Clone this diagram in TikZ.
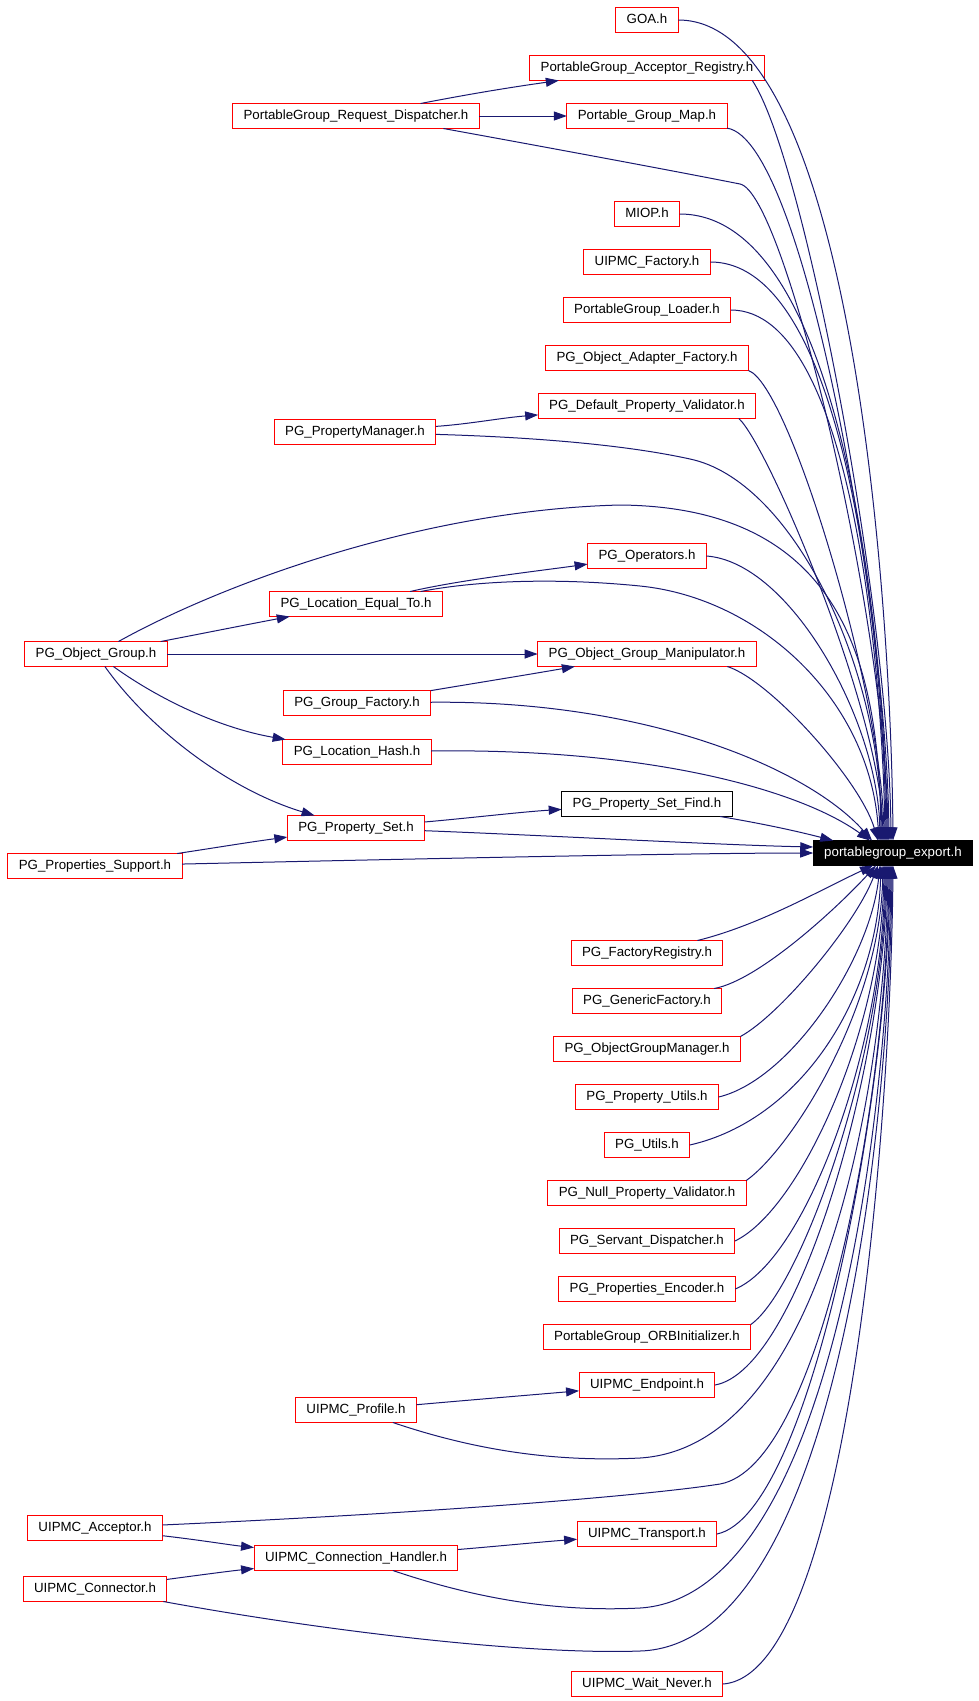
\documentclass[tikz,border=0pt]{standalone}
\usepackage{fontspec}
\setmainfont{Liberation Sans}
\usepackage{xcolor}
\usepackage{tikz}
\usetikzlibrary{arrows.meta, positioning}
\definecolor{edgeblue}{HTML}{191970}

\begin{document}
\begin{tikzpicture}[x=1pt, y=-1pt,
    file/.style={draw=red, line width=1pt, inner xsep=11pt, inner ysep=0pt,
      minimum height=25pt, outer sep=0pt, text height=9.6pt, text depth=2.8pt,
      font=\fontsize{13.3}{15}\selectfont},
    dep/.style={draw=edgeblue, line width=1pt, -{Triangle[length=13pt, width=9pt]}}]
  \useasboundingbox (0,0) rectangle (979,1701);

  \node[file] (goa) at (647,20) {GOA.h};
  \node[file, below=23pt of goa] (par) {PortableGroup\_Acceptor\_Registry.h};
  \node[file, below=23pt of par] (pgm) {Portable\_Group\_Map.h};
  \node[file, below=73pt of pgm] (miop) {MIOP.h};
  \node[file, below=23pt of miop] (uf) {UIPMC\_Factory.h};
  \node[file, below=23pt of uf] (pgl) {PortableGroup\_Loader.h};
  \node[file, below=23pt of pgl] (poaf) {PG\_Object\_Adapter\_Factory.h};
  \node[file, below=23pt of poaf] (pdpv) {PG\_Default\_Property\_Validator.h};
  \node[file, below=125pt of pdpv] (pgop) {PG\_Operators.h};
  \node[file, below=73pt of pgop] (pogm) {PG\_Object\_Group\_Manipulator.h};
  \node[file, below=125pt of pogm, draw=black] (psf) {PG\_Property\_Set\_Find.h};
  \node[file, below=124pt of psf] (pfr) {PG\_FactoryRegistry.h};
  \node[file, below=23pt of pfr] (pgf) {PG\_GenericFactory.h};
  \node[file, below=23pt of pgf] (pogmgr) {PG\_ObjectGroupManager.h};
  \node[file, below=23pt of pogmgr] (ppu) {PG\_Property\_Utils.h};
  \node[file, below=23pt of ppu] (pgu) {PG\_Utils.h};
  \node[file, below=23pt of pgu] (pnpv) {PG\_Null\_Property\_Validator.h};
  \node[file, below=23pt of pnpv] (psd) {PG\_Servant\_Dispatcher.h};
  \node[file, below=23pt of psd] (ppe) {PG\_Properties\_Encoder.h};
  \node[file, below=23pt of ppe] (orbi) {PortableGroup\_ORBInitializer.h};
  \node[file, below=23pt of orbi] (ue) {UIPMC\_Endpoint.h};
  \node[file, below=124pt of ue] (ut) {UIPMC\_Transport.h};
  \node[file, below=125pt of ut] (uwn) {UIPMC\_Wait\_Never.h};

  \node[file] (pgrd) at (356,116) {PortableGroup\_Request\_Dispatcher.h};
  \node[file] (pgpm) at (355,432) {PG\_PropertyManager.h};
  \node[file] (plet) at (356,604) {PG\_Location\_Equal\_To.h};
  \node[file] (pggf) at (357,703) {PG\_Group\_Factory.h};
  \node[file] (plh) at (357,752) {PG\_Location\_Hash.h};
  \node[file] (pps) at (356,828) {PG\_Property\_Set.h};
  \node[file] (up) at (356,1410) {UIPMC\_Profile.h};
  \node[file] (uch) at (356,1558) {UIPMC\_Connection\_Handler.h};

  \node[file] (pog) at (96,654) {PG\_Object\_Group.h};
  \node[file] (ppsup) at (95,866) {PG\_Properties\_Support.h};
  \node[file] (uacc) at (95,1528) {UIPMC\_Acceptor.h};
  \node[file] (ucon) at (95,1589) {UIPMC\_Connector.h};

  \node[file, fill=black, draw=black, text=white] (exp) at (893,853) {portablegroup\_export.h};

  \draw[dep] (pgrd) .. controls (480,92) and (520,86) .. (par);
  \draw[dep] (pgrd) -- (pgm);
  \draw[dep] (pgpm) .. controls (470,424) and (500,418) .. (pdpv);
  \draw[dep] (pog) .. controls (210,632) and (250,624) .. (plet);
  \draw[dep] (pog) -- (pogm);
  \draw[dep] (pog) .. controls (160,700) and (220,728) .. (plh);
  \draw[dep] (pog) .. controls (150,730) and (230,790) .. (pps);
  \draw[dep] (plet) .. controls (460,580) and (530,572) .. (pgop);
  \draw[dep] (pggf) .. controls (470,684) and (520,676) .. (pogm);
  \draw[dep] (pps) .. controls (470,818) and (520,812) .. (psf);
  \draw[dep] (ppsup) .. controls (220,847) and (250,842) .. (pps);
  \draw[dep] (up) .. controls (470,1400) and (530,1395) .. (ue);
  \draw[dep] (uacc) .. controls (200,1540) and (230,1545) .. (uch);
  \draw[dep] (ucon) .. controls (200,1575) and (230,1571) .. (uch);
  \draw[dep] (uch) .. controls (500,1546) and (540,1542) .. (ut);

  \draw[dep] (goa.east) .. controls (850,20) and (891,595) .. (exp.north);
  \draw[dep] ([xshift=-12pt]par.south east) .. controls (805,160) and (889,610) .. ([xshift=-2pt]exp.north);
  \draw[dep] (pgm) .. controls (805,140) and (887,620) .. ([xshift=-4pt]exp.north);
  \draw[dep] ([xshift=-36pt]pgrd.south east) .. controls (600,157) and (700,176) .. (740,184) .. controls (785,193) and (886,620) .. ([xshift=-5pt]exp.north);
  \draw[dep] (miop.east) .. controls (846,214) and (885,653) .. ([xshift=-6pt]exp.north);
  \draw[dep] (uf.east) .. controls (851,262) and (884,667) .. ([xshift=-7pt]exp.north);
  \draw[dep] (pgl.east) .. controls (854,310) and (883,682) .. ([xshift=-8pt]exp.north);
  \draw[dep] (poaf.south east) .. controls (790,385) and (882,696) .. ([xshift=-9pt]exp.north);
  \draw[dep] ([xshift=-17pt]pdpv.south east) .. controls (768,445) and (881,711) .. ([xshift=-10pt]exp.north);
  \draw[dep] (pgpm) .. controls (560,438) and (640,448) .. (690,459) .. controls (790,480) and (880,660) .. ([xshift=-11pt]exp.north);
  \draw[dep] (pog) .. controls (220,585) and (420,510) .. (620,505) .. controls (840,507) and (879,660) .. ([xshift=-12pt]exp.north);
  \draw[dep] (pgop.east) .. controls (790,562) and (878,720) .. ([xshift=-13pt]exp.north);
  \draw[dep] (plet) .. controls (480,580) and (560,578) .. (640,586) .. controls (760,598) and (870,700) .. ([xshift=-14pt]exp.north);
  \draw[dep] ([xshift=-29pt]pogm.south east) .. controls (770,680) and (860,780) .. ([xshift=-15pt]exp.north);
  \draw[dep] (pggf) .. controls (650,700) and (810,770) .. ([xshift=-21pt]exp.north);
  \draw[dep] (plh) .. controls (650,748) and (800,790) .. ([xshift=-23pt]exp.north);
  \draw[dep] (psf) .. controls (770,825) and (800,832) .. ([xshift=20pt]exp.north west);
  \draw[dep] (pps) .. controls (560,836) and (720,845) .. ([yshift=6pt]exp.west);
  \draw[dep] (ppsup) .. controls (450,858) and (700,853) .. (exp.west);

  \draw[dep] (pfr) .. controls (760,925) and (820,890) .. ([xshift=-20pt]exp.south);
  \draw[dep] (pgf) .. controls (760,980) and (840,905) .. ([xshift=-17pt]exp.south);
  \draw[dep] (pogmgr.north east) .. controls (780,1015) and (855,925) .. ([xshift=-15pt]exp.south);
  \draw[dep] (ppu.east) .. controls (790,1080) and (870,960) .. ([xshift=-13pt]exp.south);
  \draw[dep] (pgu.east) .. controls (800,1120) and (877,1000) .. ([xshift=-12pt]exp.south);
  \draw[dep] (pnpv.north east) .. controls (790,1150) and (880,1010) .. ([xshift=-10pt]exp.south);
  \draw[dep] (psd.east) .. controls (800,1210) and (882,1030) .. ([xshift=-9pt]exp.south);
  \draw[dep] (ppe.east) .. controls (805,1260) and (883,1050) .. ([xshift=-8pt]exp.south);
  \draw[dep] (orbi.north east) .. controls (800,1290) and (884,1060) .. ([xshift=-7pt]exp.south);
  \draw[dep] (ue.east) .. controls (800,1370) and (885,1060) .. ([xshift=-6pt]exp.south);
  \draw[dep] (up) .. controls (480,1452) and (560,1462) .. (640,1458) .. controls (830,1446) and (886,1060) .. ([xshift=-5pt]exp.south);
  \draw[dep] (uacc) .. controls (450,1512) and (650,1495) .. (720,1484) .. controls (820,1466) and (887,1100) .. ([xshift=-4pt]exp.south);
  \draw[dep] (ut.east) .. controls (810,1515) and (888,1100) .. ([xshift=-3pt]exp.south);
  \draw[dep] (uch) .. controls (480,1600) and (560,1612) .. (640,1608) .. controls (835,1596) and (889,1100) .. ([xshift=-2pt]exp.south);
  \draw[dep] (ucon) .. controls (330,1632) and (530,1655) .. (640,1651) .. controls (840,1645) and (890,1110) .. ([xshift=-1pt]exp.south);
  \draw[dep] (uwn.east) .. controls (850,1675) and (891,1110) .. (exp.south);
\end{tikzpicture}
\end{document}
